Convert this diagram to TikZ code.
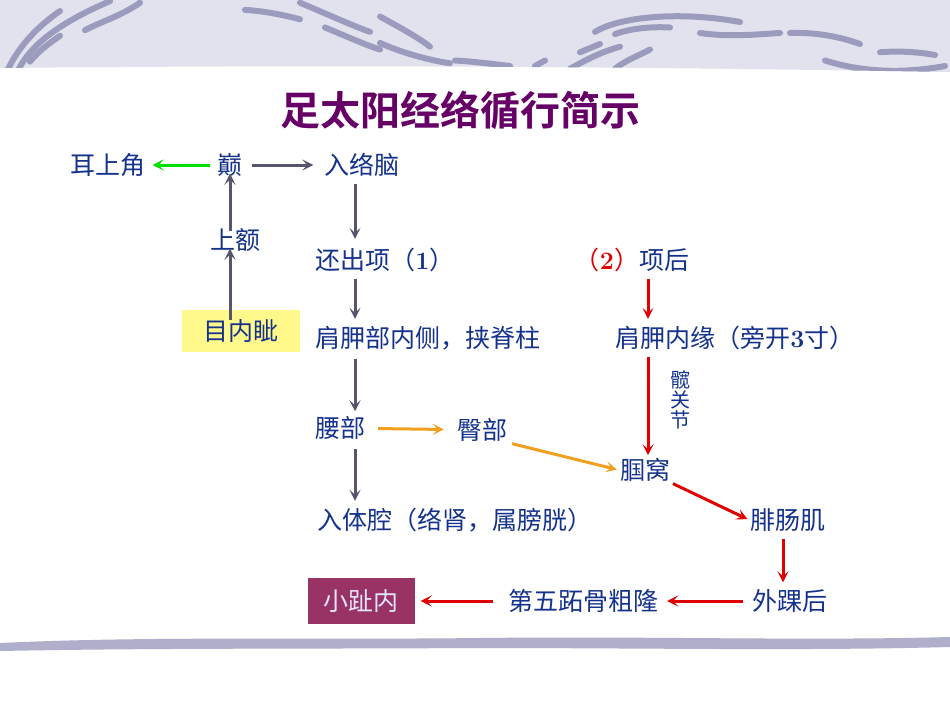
\documentclass[tikz,border=0pt]{standalone}
\usepackage{fontspec}
\newfontfamily\cjk{Noto Sans CJK SC}[BoldFont={Noto Sans CJK SC Bold}]
\usetikzlibrary{arrows.meta}
\definecolor{txt}{RGB}{20,50,140}
\definecolor{ttl}{RGB}{102,0,102}
\definecolor{gr}{RGB}{85,85,110}
\definecolor{org}{RGB}{240,160,30}
\definecolor{rd}{RGB}{225,0,0}
\definecolor{grn}{RGB}{0,225,0}
\definecolor{ban}{RGB}{226,226,238}
\definecolor{strk}{RGB}{155,155,190}
\definecolor{mag}{RGB}{153,51,102}
\begin{document}
\begin{tikzpicture}[x=1pt,y=-1pt,
  t/.style={text=txt,font=\cjk\fontsize{25}{28}\selectfont,inner sep=1pt},
  ar/.style={line width=3pt,-{Stealth[length=11pt,width=11pt,inset=5pt]}},
  g/.style={ar,draw=gr}, o/.style={ar,draw=org}, r/.style={ar,draw=rd}]
\useasboundingbox (0,0) rectangle (950,713);
\fill[white] (0,0) rectangle (950,713);
% banner
\fill[ban] (0,0) -- (950,0) -- (950,72) .. controls (700,68) and (400,64) .. (0,68) -- cycle;
\begin{scope}
\clip (0,0) -- (950,0) -- (950,72) .. controls (700,68) and (400,64) .. (0,68) -- cycle;
\begin{scope}[strk,line cap=round,line width=6pt,yscale=0.55]
\draw (8,126) .. controls (20,80) and (40,45) .. (60,20);
\draw (18,128) .. controls (30,85) and (55,45) .. (110,2);
\draw (30,112) .. controls (40,90) and (50,78) .. (60,65);
\draw (85,55) .. controls (100,40) and (120,30) .. (140,5);
\draw (245,18) .. controls (265,20) and (285,28) .. (300,35);
\draw (300,5) .. controls (320,20) and (350,45) .. (370,58);
\draw (325,50) .. controls (345,65) and (370,85) .. (380,90);
\draw (380,30) .. controls (400,50) and (420,70) .. (430,85);
\draw (380,78) .. controls (400,95) and (430,110) .. (450,115);
\draw (455,110) .. controls (475,112) and (500,118) .. (510,120);
\draw (535,120) -- (545,110);
\draw (570,125) .. controls (585,110) and (600,95) .. (620,85);
\draw (580,95) -- (600,80);
\draw (615,125) .. controls (625,110) and (640,100) .. (650,90);
\draw (595,58) .. controls (620,30) and (680,20) .. (740,40);
\draw (615,62) .. controls (630,52) and (650,48) .. (670,50);
\draw (700,60) .. controls (730,68) and (760,62) .. (780,60);
\draw (790,60) .. controls (820,58) and (845,70) .. (860,80);
\draw (825,110) .. controls (860,130) and (900,135) .. (945,120);
\draw (880,95) .. controls (900,92) and (920,95) .. (935,100);
\end{scope}
\end{scope}
% bottom band
\fill[strk!80] (0,643) .. controls (150,636) and (300,640) .. (480,638) .. controls (650,636) and (800,641) .. (950,637) -- (950,647) .. controls (800,651) and (650,648) .. (480,648) .. controls (300,649) and (150,648) .. (0,651) -- cycle;
% title
\node[text=ttl,font=\cjk\bfseries\fontsize{40}{44}\selectfont] (title) at (460,110) {足太阳经络循行简示};
% nodes
\node[t] (erj) at (108,165) {耳上角};
\node[t] (dian) at (230,165) {巅};
\node[t] (rln) at (362,165) {入络脑};
\node[t] (se) at (235,240) {上额};
\node[fill=yellow!45,text=txt,font=\cjk\fontsize{25}{28}\selectfont,minimum width=118pt,minimum height=42pt] (mnz) at (241,331) {目内眦};
\node[t] (hcx) at (385,260) {还出项（\textbf{\textrm{1}}）};
\node[t] (xh) at (632,260) {\textcolor{rd}{（\textbf{\textrm{2}}）}项后};
\node[t] (jjn) at (428,338) {肩胛部内侧，挟脊柱};
\node[t] (jjy) at (735,338) {肩胛内缘（旁开\textbf{\textrm{3}}寸）};
\node[t,font=\cjk\fontsize{20}{23}\selectfont,align=center] (kgj) at (680,400) {髋\\[-3pt]关\\[-3pt]节};
\node[t] (yb) at (340,428) {腰部};
\node[t] (tb) at (482,430) {臀部};
\node[t] (gw) at (645,470) {腘窝};
\node[t] (fcj) at (788,520) {腓肠肌};
\node[t] (rtq) at (455,520) {入体腔（络肾，属膀胱）};
\node[t] (whh) at (790,601) {外踝后};
\node[t] (dw) at (583,601) {第五跖骨粗隆};
\node[fill=mag,text=white!90!blue,font=\cjk\fontsize{25}{28}\selectfont,minimum width=107pt,minimum height=46pt] (xzn) at (361,601) {小趾内};
% arrows
\draw[ar,draw=grn,shorten <=6pt,shorten >=6pt] (dian) -- (erj);
\draw[g,shorten <=8pt,shorten >=10pt] (dian) -- (rln);
\draw[g] ([xshift=-7pt,yshift=-6pt]rln.south) -- ([xshift=-7pt,yshift=8pt]rln.south |- hcx.north);
\draw[g] ([xshift=-5pt,yshift=-4pt]se.north) -- ([xshift=-5pt,yshift=4pt]se.north |- dian.south);
\draw[g] ([xshift=-11pt,yshift=-10pt]mnz.north) -- ([xshift=-11pt,yshift=4pt]mnz.north |- se.south);
\draw[g] ([xshift=-30pt,yshift=-6pt]hcx.south) -- ([xshift=-30pt,yshift=6pt]hcx.south |- jjn.north);
\draw[g] ([xshift=-73pt,yshift=-8pt]jjn.south) -- ([xshift=-73pt,yshift=4pt]jjn.south |- yb.north);
\draw[g] ([xshift=15pt,yshift=-8pt]yb.south) -- ([xshift=15pt,yshift=6pt]yb.south |- rtq.north);
\draw[o,shorten <=12pt,shorten >=12pt] (yb) -- (tb);
\draw[o,shorten <=4pt,shorten >=2pt] (tb.south east) -- (gw.west);
\draw[r] ([xshift=16pt,yshift=-6pt]xh.south) -- ([xshift=16pt,yshift=6pt]xh.south |- jjy.north);
\draw[r] ([xshift=-87pt,yshift=-6pt]jjy.south) -- ([xshift=-87pt,yshift=2pt]jjy.south |- gw.north);
\draw[r,shorten <=2pt,shorten >=2pt] (gw.south east) -- (fcj.west);
\draw[r] ([xshift=-5pt,yshift=-6pt]fcj.south) -- ([xshift=-5pt,yshift=6pt]fcj.south |- whh.north);
\draw[r,shorten <=8pt,shorten >=8pt] (whh) -- (dw);
\draw[r,shorten <=14pt,shorten >=6pt] (dw) -- (xzn);
\end{tikzpicture}
\end{document}
